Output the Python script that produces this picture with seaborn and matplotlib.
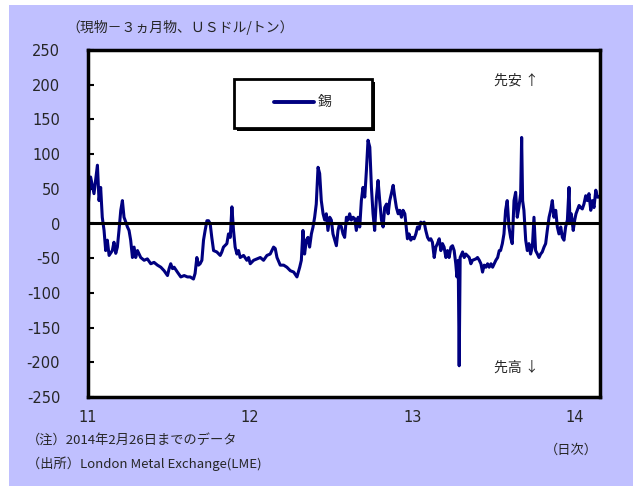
import matplotlib
matplotlib.use("Agg")
import matplotlib.pyplot as plt
import seaborn as sns
import pandas as pd
from matplotlib.patches import Rectangle

# ---- data: fractional year (11 = 2011) and spot - 3M spread (USD/t) ----
year_2011 = [11.000, 11.016, 11.037, 11.047, 11.058, 11.068, 11.078, 11.088, 11.099, 11.109,
             11.119, 11.130, 11.150, 11.160, 11.171, 11.181, 11.191, 11.202, 11.212, 11.222,
             11.233, 11.243, 11.253, 11.263, 11.274, 11.284, 11.294, 11.305, 11.325, 11.346,
             11.366, 11.387, 11.407, 11.428, 11.449, 11.469, 11.490, 11.500, 11.510, 11.521,
             11.531, 11.551, 11.572, 11.593, 11.613,
             11.630, 11.650, 11.660, 11.671, 11.681, 11.691, 11.702, 11.712, 11.722, 11.733,
             11.743, 11.753, 11.763, 11.774, 11.794, 11.815, 11.825, 11.835, 11.856, 11.866,
             11.877, 11.887, 11.897, 11.907, 11.918, 11.928, 11.938, 11.959, 11.979, 11.990]
tin_2011 = [23, 67, 43, 62, 84, 33, 52, 9, -10, -39,
            -24, -46, -39, -27, -43, -34, -10, 19, 33, 9,
            2, -5, -10, -24, -49, -34, -49, -39, -49, -53,
            -51, -58, -56, -60, -63, -68, -75, -65, -58, -65,
            -63, -70, -77, -75, -77,
            -77, -80, -72, -49, -60, -58, -53, -24, -10, 4,
            4, 0, -20, -39, -41, -46, -41, -34, -29, -15,
            -20, 24, -10, -34, -44, -39, -49, -46, -53, -49]

year_2012 = [12.000, 12.021, 12.041, 12.062, 12.082, 12.103, 12.123, 12.144, 12.154, 12.165,
             12.185, 12.206, 12.226, 12.247, 12.268, 12.288, 12.305, 12.315, 12.325, 12.335,
             12.346, 12.356, 12.366, 12.377, 12.387, 12.397, 12.407, 12.418, 12.428, 12.438,
             12.449, 12.459, 12.469, 12.479, 12.490, 12.500, 12.510, 12.521, 12.531, 12.541,
             12.551, 12.562, 12.572, 12.582, 12.593, 12.603, 12.613, 12.623, 12.634, 12.644,
             12.654, 12.665, 12.675, 12.685, 12.695, 12.706, 12.716, 12.726, 12.737, 12.747,
             12.757, 12.767, 12.778, 12.788, 12.798, 12.809, 12.819, 12.829, 12.840, 12.850,
             12.860, 12.870, 12.881, 12.891, 12.901, 12.912, 12.922, 12.932, 12.942, 12.953,
             12.959, 12.969, 12.979, 12.990]
tin_2012 = [-58, -53, -51, -49, -53, -46, -44, -34, -36, -49,
            -60, -60, -63, -68, -70, -77, -63, -53, -10, -44,
            -24, -20, -34, -15, -5, 9, 28, 81, 72, 33,
            14, 5, 14, -10, 9, 5, -15, -24, -32, -10,
            0, -5, -15, -20, 9, 5, 14, 5, 9, 7,
            -10, 9, -5, 33, 52, 38, 76, 120, 110, 52,
            14, -10, 38, 62, 33, 5, -5, 23, 28, 14,
            33, 43, 55, 38, 23, 14, 19, 9, 19, 14,
            0, -22, -15, -24]

year_2013 = [13.000, 13.010, 13.021, 13.031, 13.041, 13.051, 13.062, 13.072, 13.082, 13.093,
             13.103, 13.113, 13.123, 13.134, 13.144, 13.154, 13.165, 13.175, 13.185, 13.195,
             13.206, 13.216, 13.226, 13.237, 13.247, 13.257, 13.267, 13.274, 13.282, 13.288,
             13.294, 13.309, 13.319, 13.329, 13.350, 13.360, 13.370, 13.391, 13.401, 13.412,
             13.422, 13.432, 13.442, 13.453, 13.463, 13.473, 13.484, 13.494, 13.504, 13.514,
             13.525, 13.535, 13.543, 13.554, 13.564, 13.574, 13.584, 13.595, 13.605, 13.615,
             13.626, 13.636, 13.646, 13.656, 13.667, 13.673, 13.679, 13.687, 13.698, 13.708,
             13.718, 13.728, 13.739, 13.749, 13.759, 13.770, 13.780, 13.790, 13.800, 13.811,
             13.821, 13.831, 13.842, 13.852, 13.862, 13.872, 13.883, 13.893, 13.903, 13.914,
             13.924, 13.934, 13.944, 13.955, 13.965, 13.971, 13.979, 13.991]
tin_2013 = [-20, -22, -15, -5, -8, 2, 0, 2, -10, -20,
            -24, -22, -27, -49, -34, -29, -22, -39, -29, -34,
            -49, -39, -49, -34, -32, -39, -58, -77, -53, -205,
            -49, -41, -49, -44, -49, -58, -53, -51, -49, -53,
            -58, -70, -60, -63, -58, -63, -58, -63, -58, -53,
            -49, -39, -39, -29, -15, 19, 33, -5, -20, -29,
            33, 45, 9, 23, 43, 124, 33, 19, -24, -39,
            -29, -44, -34, 9, -39, -44, -49, -44, -41, -34,
            -29, -10, 9, 19, 33, 9, 19, -5, -15, -5,
            -20, -24, -5, 5, 52, 0, 14, -10]

year_2014 = [14.000, 14.008, 14.016, 14.027, 14.037, 14.047, 14.057, 14.068, 14.078, 14.088,
             14.099, 14.109, 14.119, 14.130, 14.140, 14.150]
tin_2014 = [5, 14, 19, 26, 23, 21, 28, 40, 33, 43,
            19, 33, 23, 48, 38, 38]

x_ticks = [11, 12, 13, 14]
x_tick_labels = ["11", "12", "13", "14"]
y_ticks = [250, 200, 150, 100, 50, 0, -50, -100, -150, -200, -250]

df = pd.DataFrame({
    "year": year_2011 + year_2012 + year_2013 + year_2014,
    "spread": tin_2011 + tin_2012 + tin_2013 + tin_2014,
})

# ---- style ----
sns.set_theme(style="white")
plt.rcParams["font.family"] = ["Noto Sans CJK JP", "DejaVu Sans"]

LAV = "#C0C0FF"
NAVY = "#000080"
W, H = 633, 486
fig = plt.figure(figsize=(W / 100, H / 100), dpi=100, facecolor="white")
fig.patches.append(Rectangle((9 / W, 0), 1 - 9 / W, 1 - 5 / H, transform=fig.transFigure,
                             facecolor=LAV, edgecolor="none", zorder=-10))

ax = fig.add_axes([88 / W, 1 - 397 / H, (600 - 88) / W, (397 - 50) / H])
ax.set_facecolor("white")

sns.lineplot(data=df, x="year", y="spread", ax=ax, color=NAVY, linewidth=2.2,
             estimator=None, sort=False, label="錫", legend=False)
ax.axhline(0, color="black", linewidth=2.2, zorder=3)

ax.set_xlim(11, 14.156)
ax.set_ylim(-250, 250)
ax.set_xticks(x_ticks)
ax.set_xticklabels(x_tick_labels)
ax.set_yticks(y_ticks)
ax.set_yticklabels([str(v).replace("-", "-") for v in y_ticks])
ax.tick_params(axis="y", direction="in", length=4, width=1.5, color="black",
               left=True, labelsize=10.5, pad=20)
ax.tick_params(axis="x", length=0, labelsize=10.5, pad=9)
for lab in ax.get_yticklabels() + ax.get_xticklabels():
    lab.set_family(["Liberation Sans Narrow", "DejaVu Sans"])
ax.set_xlabel("")
ax.set_ylabel("")
for s in ax.spines.values():
    s.set_visible(True)
    s.set_color("black")
    s.set_linewidth(2.5)

# legend box with shadow
ax.add_patch(Rectangle((237 / W, 1 - 131 / H), (372 - 234) / W, (128 - 79) / H,
                       transform=fig.transFigure, facecolor="black", edgecolor="none",
                       zorder=4, clip_on=False))
ax.add_patch(Rectangle((234 / W, 1 - 128 / H), (372 - 234) / W, (128 - 79) / H,
                       transform=fig.transFigure, facecolor="white", edgecolor="black",
                       linewidth=2, zorder=5, clip_on=False))
ax.plot([274 / W, 314 / W], [1 - 102 / H, 1 - 102 / H], transform=fig.transFigure,
        color=NAVY, linewidth=2.8, zorder=6, solid_capstyle="round")
fig.text(318 / W, 1 - 102 / H, "錫", fontsize=10, va="center", ha="left", zorder=7)

# annotations
fig.text(494 / W, 1 - 81 / H, "先安 ↑", fontsize=10, va="center", ha="left")
fig.text(494 / W, 1 - 368 / H, "先高 ↓", fontsize=10, va="center", ha="left")

# texts
fig.text(66 / W, 1 - 27 / H, "（現物－３ヵ月物、ＵＳドル/トン）", fontsize=10, va="center", ha="left")
fig.text(27 / W, 1 - 440 / H, "（注）2014年2月26日までのデータ", fontsize=9.5, va="center", ha="left")
fig.text(27 / W, 1 - 464 / H, "（出所）London Metal Exchange(LME)", fontsize=9.5, va="center", ha="left")
fig.text(545 / W, 1 - 450 / H, "（日次）", fontsize=9.5, va="center", ha="left")

fig.savefig("out.png", dpi=100, facecolor=fig.get_facecolor())
